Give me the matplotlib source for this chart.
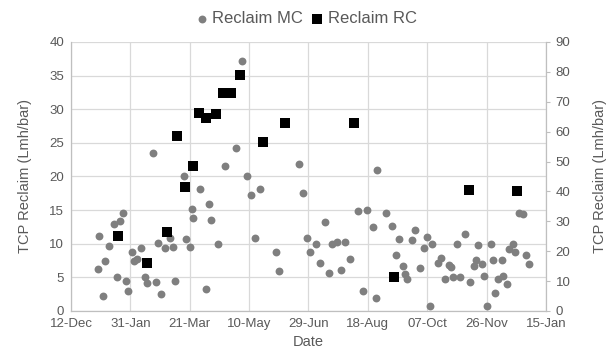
import matplotlib
matplotlib.use("Agg")
import matplotlib.pyplot as plt
import matplotlib.dates as mdates
import numpy as np
import pandas as pd

plt.rcParams['font.family'] = ['Liberation Sans Narrow', 'Liberation Sans', 'DejaVu Sans']

# start of the sampling campaign; sample days are counted from here
start = pd.Timestamp('2015-12-12')

# Reclaim MC (left axis)
mc_day = [23, 24, 27, 29, 32, 36, 39, 41, 44, 46, 48, 51, 53, 56, 59, 62, 64, 69, 72, 73,
          76, 79, 83, 86, 88, 95, 97, 100, 102, 103, 109, 114, 116, 118, 124, 130, 139, 144,
          148, 152, 155, 159, 173, 175, 192, 195, 199, 201, 206, 210, 214, 217, 220, 224,
          227, 231, 235, 242, 246, 249, 254, 257, 258, 265, 270, 274, 276, 280, 281, 283,
          287, 290, 294, 297, 300, 302, 304, 309, 312, 315, 318, 320, 322, 325, 328, 332,
          336, 339, 341, 343, 346, 348, 350, 354, 355, 357, 360, 363, 364, 367, 369, 372,
          374, 377, 381, 383, 386]
mc_val = [6.2, 11.2, 2.3, 7.4, 9.6, 12.9, 5.1, 13.4, 14.5, 4.4, 3.0, 8.7, 7.4, 7.8, 9.3, 5.1,
          4.1, 23.5, 4.3, 10.1, 2.6, 9.4, 10.8, 9.5, 4.5, 20.0, 10.7, 9.5, 15.2, 13.9, 18.2,
          3.3, 15.9, 13.6, 10.0, 21.6, 24.3, 37.1, 20.1, 17.2, 10.9, 18.1, 8.7, 6.0, 21.9,
          17.5, 10.9, 8.7, 10.0, 7.2, 13.3, 5.6, 9.9, 10.3, 6.1, 10.2, 7.8, 14.9, 3.0, 15.0,
          12.5, 2.0, 21.0, 14.5, 12.7, 8.3, 10.7, 6.7, 5.5, 4.7, 10.6, 12.0, 6.4, 9.4, 11.0,
          0.8, 9.9, 7.2, 7.9, 4.7, 6.8, 6.5, 5.1, 9.9, 5.1, 11.5, 4.3, 6.7, 7.6, 9.8, 7.0,
          5.2, 0.7, 9.9, 7.6, 2.7, 4.8, 7.6, 5.2, 4.0, 9.2, 9.9, 8.7, 14.6, 14.4, 8.3, 7.0]

# Reclaim RC (right axis)
rc_day = [40, 64, 81, 89, 96, 103, 108, 114, 122, 128, 135, 142, 162, 180, 238, 272, 335, 376]
rc_val = [25.2, 16.1, 26.5, 58.7, 41.5, 48.5, 66.2, 64.7, 65.8, 73.0, 73.0, 79.1, 56.4,
          62.9, 62.8, 11.5, 40.5, 40.0]

mc_dates = start + pd.to_timedelta(mc_day, unit='D')
rc_dates = start + pd.to_timedelta(rc_day, unit='D')

text_col = '#595959'
grid_col = '#d9d9d9'

fig = plt.figure(figsize=(6.13, 3.58), dpi=100)
ax = fig.add_axes([0.1158, 0.1313, 0.7749, 0.7514])
ax2 = ax.twinx()

ax.scatter(mc_dates, mc_val, s=32, color='#7f7f7f', linewidths=0, zorder=3, label='Reclaim MC')
ax2.scatter(rc_dates, rc_val, s=55, marker='s', color='black', linewidths=0, zorder=3,
            label='Reclaim RC')

# x axis: one tick every 50 days
x_end = pd.Timestamp('2017-01-15')
ax.set_xlim(start, x_end)
ax.set_xticks(pd.date_range(start, x_end, freq='50D'))
ax.xaxis.set_major_formatter(mdates.DateFormatter('%d-%b'))

ax.set_ylim(0, 40)
ax.set_yticks(np.arange(0, 41, 5))
ax2.set_ylim(0, 90)
ax2.set_yticks(np.arange(0, 91, 10))

ax.grid(True, color=grid_col, linewidth=0.9)
ax.set_axisbelow(True)

for a in (ax, ax2):
    a.spines['top'].set_visible(False)
    for side in ('left', 'right', 'bottom'):
        a.spines[side].set_color('#bfbfbf')
ax.tick_params(axis='both', length=0, colors=text_col, labelsize=9.5, pad=5)
ax2.tick_params(axis='y', length=3, color='#bfbfbf', labelcolor=text_col, labelsize=9.5, pad=4)

ax.set_xlabel('Date', color=text_col, fontsize=10.5, labelpad=4)
ax.set_ylabel('TCP Reclaim (Lmh/bar)', color=text_col, fontsize=10.5, labelpad=12)
ax2.set_ylabel('TCP Reclaim (Lmh/bar)', color=text_col, fontsize=10.5, rotation=90, labelpad=16)

h1, l1 = ax.get_legend_handles_labels()
h2, l2 = ax2.get_legend_handles_labels()
leg = fig.legend(h1 + h2, l1 + l2, loc='upper center', bbox_to_anchor=(0.5, 1.01), ncol=2,
                 frameon=False, fontsize=12, handlelength=0.7, handletextpad=0.3,
                 columnspacing=0.5, markerscale=1.0)
for t in leg.get_texts():
    t.set_color(text_col)

fig.savefig('out.png', dpi=100, facecolor='white')
